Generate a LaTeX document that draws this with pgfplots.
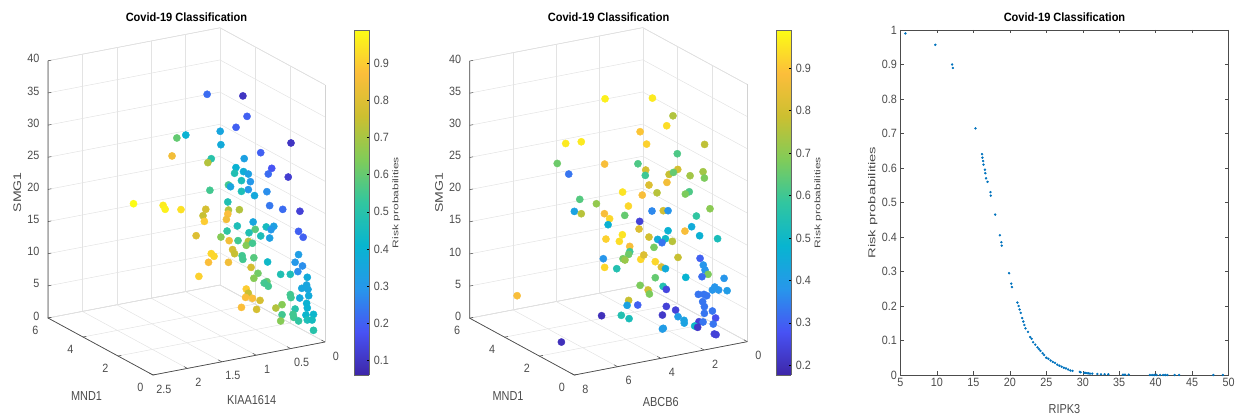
\documentclass[border=0pt]{standalone}
\usepackage{pgfplots}
\usepackage{pgfplotstable}
\usepackage{fontspec}
\setmainfont{Liberation Sans}
\pgfplotsset{compat=1.18}
\pgfplotsset{colormap={mparula}{
 rgb=(0.2422,0.1504,0.6603) rgb=(0.2810,0.3228,0.9579) rgb=(0.1540,0.5902,0.9218)
 rgb=(0.0297,0.7082,0.8163) rgb=(0.1938,0.7758,0.6251) rgb=(0.5044,0.7993,0.3480)
 rgb=(0.8000,0.7500,0.1900) rgb=(0.9900,0.7450,0.2300) rgb=(0.9900,0.9900,0.0800)}}
\newcommand{\tl}[1]{\scalebox{0.9}[1]{\fontsize{12}{14}\selectfont #1}}
\newcommand{\ttl}{\scalebox{0.92}[1]{\fontsize{12}{14}\selectfont\bfseries Covid-19 Classification}}
\newcommand{\lab}[1]{\scalebox{0.84}[1]{\fontsize{13}{15}\selectfont #1}}
\newcommand{\zlab}[1]{\scalebox{1.28}[1]{\fontsize{11}{13}\selectfont #1}}
\definecolor{tk}{gray}{0.3}
\pgfplotstableread{
x y z m
0.95 3 36.04 0.22
0.43 3 34.72 0.10
0.37 3 31.42 0.20
0.53 3 30.04 0.20
0.76 3 29.90 0.35
0.75 3 27.79 0.37
1.26 3 30.34 0.40
1.39 3 30.15 0.60
1.46 3 27.50 0.85
0.89 3 25.90 0.50
0.94 3 25.39 0.72
0.64 3 21.30 0.55
0.61 3 20.97 0.35
0.91 3 21.03 0.55
0.65 3 18.68 0.48
2.02 3 21.22 0.99
1.59 3 20.08 0.96
1.56 3 19.41 0.97
1.33 3 18.89 0.94
0.97 3 18.20 0.78
1.01 3 17.28 0.75
0.64 3 17.40 0.72
0.65 3 16.81 0.87
0.67 3 16.01 0.85
0.99 3 16.36 0.90
0.66 3 14.18 0.52
1.11 3 14.38 0.80
0.75 3 13.43 0.65
0.63 3 12.62 0.85
0.58 3 11.13 0.78
0.89 3 11.14 0.92
0.85 3 10.64 0.92
0.93 3 9.87 0.87
0.64 3 9.27 0.85
1.07 3 7.97 0.91
0.24 1 29.97 0.10
0.68 1 29.36 0.20
0.92 1 28.93 0.33
1.04 1 27.78 0.40
0.52 1 26.60 0.18
0.57 1 25.82 0.22
1.06 1 26.94 0.48
0.93 1 26.93 0.38
0.86 1 26.41 0.33
0.28 1 24.75 0.12
0.96 1 25.59 0.46
0.83 1 25.16 0.30
0.96 1 23.92 0.47
0.86 1 23.99 0.30
0.77 1 22.87 0.36
0.59 1 23.11 0.28
0.55 1 20.86 0.24
0.36 1 19.89 0.22
0.11 1 19.08 0.13
0.99 1 21.13 0.72
0.79 1 18.81 0.35
1.02 1 18.66 0.47
0.60 1 17.65 0.45
0.49 1 17.52 0.33
0.53 1 17.08 0.30
0.76 1 17.60 0.58
0.85 1 17.26 0.48
0.13 1 16.00 0.20
0.68 1 16.41 0.47
0.55 1 15.82 0.33
1.01 1 16.36 0.55
0.86 1 15.94 0.73
0.89 1 15.38 0.65
0.80 1 15.52 0.55
1.06 1 14.43 0.75
0.95 1 13.89 0.55
0.94 1 13.30 0.55
0.78 1 13.23 0.58
0.13 1 12.38 0.32
0.58 1 12.16 0.43
0.18 1 11.29 0.30
0.82 1 11.81 0.78
0.72 1 10.68 0.62
0.39 1 9.84 0.48
0.25 1 9.56 0.47
0.78 1 10.03 0.65
0.59 1 9.12 0.60
0.63 1 8.99 0.55
0.57 1 8.36 0.55
0.14 1 9.76 0.28
0.89 1 8.59 0.90
0.86 1 7.87 0.75
0.90 1 7.31 0.87
0.80 1 6.96 0.87
0.69 1 6.41 0.78
0.25 1 6.40 0.55
0.24 1 5.92 0.55
0.96 1 5.88 0.87
0.74 1 5.12 0.78
0.46 1 4.75 0.72
0.37 1 5.09 0.65
0.18 1 4.02 0.50
0.37 1 3.53 0.55
0.21 1 3.26 0.55
0.20 1 2.76 0.55
0.39 1 2.59 0.65
0.13 1 2.06 0.52
0.19 0.5 15.94 0.20
0.20 0.5 11.50 0.28
0.13 0.5 9.59 0.37
0.14 0.5 8.41 0.35
0.21 0.5 8.04 0.35
0.12 0.5 7.69 0.35
0.24 0.5 6.59 0.36
0.11 0.5 6.68 0.37
0.14 0.5 5.56 0.40
0.13 0.5 4.82 0.40
0.15 0.5 3.77 0.42
0.04 0.5 3.64 0.42
0.13 0.5 2.95 0.47
0.06 0.5 2.80 0.45
0.04 0.5 1.16 0.50
}\dataA
\pgfplotstableread{
x y z m
4.16 3 36.05 0.97
1.97 3 34.74 0.96
1.02 3 31.37 0.75
1.31 3 30.01 0.94
2.54 3 29.88 0.90
2.24 3 27.76 0.92
5.98 3 30.28 0.96
5.26 3 30.08 0.96
6.37 3 27.43 0.66
0.82 3 25.34 0.62
2.64 3 24.96 0.62
4.18 3 25.91 0.88
5.84 3 25.43 0.33
2.28 3 23.75 0.80
0.80 3 22.89 0.80
1.20 3 22.37 0.78
1.00 3 22.55 0.65
0.23 3 21.54 0.73
2.30 3 22.93 0.60
1.30 3 21.19 0.87
2.13 3 21.32 0.82
3.35 3 21.02 0.95
2.44 3 19.96 0.88
5.33 3 21.17 0.63
4.56 3 19.99 0.71
3.08 3 18.67 0.93
5.58 3 19.46 0.42
5.26 3 18.89 0.76
4.19 3 18.20 0.88
3.25 3 17.33 0.65
1.99 3 17.19 0.36
3.95 3 17.26 0.93
2.56 3 15.95 0.24
4.02 3 16.38 0.47
2.59 3 14.78 0.82
3.36 3 14.39 0.95
4.12 3 14.21 0.92
3.50 3 13.45 0.94
2.13 3 13.23 0.80
3.02 3 12.36 0.88
3.02 3 11.53 0.60
3.07 3 11.15 0.66
4.24 3 11.23 0.38
3.33 3 10.64 0.67
3.24 3 10.38 0.72
2.51 3 10.01 0.93
2.37 3 10.60 0.82
4.18 3 9.84 0.93
3.62 3 9.28 0.55
2.54 3 5.99 0.68
2.17 3 5.03 0.80
2.11 3 4.36 0.68
3.07 3 3.99 0.78
3.14 3 3.27 0.42
2.65 3 3.00 0.30
4.32 3 2.42 0.20
3.41 3 1.89 0.55
3.05 3 1.14 0.53
1.17 1 29.96 0.77
1.24 1 25.76 0.73
1.18 1 24.74 0.68
3.37 1 23.87 0.76
1.88 1 23.06 0.62
2.06 1 22.82 0.68
0.92 1 19.80 0.70
3.08 1 20.89 0.80
2.86 1 20.75 0.38
1.55 1 19.07 0.58
1.77 1 17.55 0.45
2.86 1 17.64 0.47
2.08 1 17.07 0.88
1.40 1 15.91 0.47
0.57 1 14.91 0.53
3.34 1 16.60 0.45
2.98 1 16.47 0.50
3.14 1 15.95 0.33
2.66 1 15.85 0.76
3.51 1 15.47 0.67
2.40 1 13.19 0.78
3.45 1 13.20 0.93
1.38 1 12.38 0.30
1.23 1 11.24 0.38
3.17 1 12.19 0.82
2.98 1 11.81 0.45
1.15 1 10.41 0.38
1.01 1 9.65 0.68
1.29 1 9.47 0.32
0.27 1 8.55 0.38
3.45 1 10.71 0.65
2.04 1 9.85 0.48
3.09 1 9.13 0.55
2.94 1 8.56 0.25
0.70 1 7.48 0.38
0.81 1 7.09 0.38
0.52 1 6.90 0.38
0.13 1 6.54 0.40
1.46 1 6.83 0.33
1.20 1 6.66 0.33
1.07 1 6.37 0.33
1.26 1 5.56 0.33
2.94 1 5.92 0.24
1.18 1 4.74 0.33
0.81 1 3.82 0.33
2.51 1 5.07 0.24
1.18 1 3.70 0.33
3.12 1 4.69 0.22
2.40 1 3.97 0.40
0.66 1 2.63 0.27
2.12 1 3.22 0.42
2.11 1 2.79 0.42
1.43 1 2.56 0.24
1.24 1 2.39 0.33
0.77 1 1.77 0.33
1.63 1 2.02 0.50
1.49 1 1.72 0.22
3.12 1 2.52 0.40
3.08 1 2.60 0.40
0.72 1 0.19 0.24
0.64 1 0.03 0.24
7.79 1 3.52 0.20
7.42 4 6.07 0.88
}\dataB
\pgfplotstableread{
x y
5.7 0.99
9.8 0.957
12.1 0.90
12.2 0.89
15.3 0.715
16.2 0.64
16.25 0.63
16.35 0.62
16.4 0.61
16.6 0.595
16.65 0.585
16.75 0.57
16.95 0.56
17.35 0.53
17.4 0.52
18.0 0.465
18.65 0.405
18.85 0.385
18.9 0.375
19.9 0.295
20.2 0.265
20.3 0.255
21.05 0.21
21.2 0.20
21.35 0.19
21.5 0.18
21.7 0.165
21.85 0.155
22.0 0.145
22.15 0.135
22.5 0.125
22.8 0.11
23.0 0.105
23.2 0.095
23.5 0.088
23.8 0.08
24.0 0.075
24.2 0.07
24.5 0.063
24.7 0.058
25.0 0.05
25.3 0.047
25.6 0.042
25.9 0.038
26.2 0.035
26.5 0.03
26.8 0.027
27.1 0.024
27.4 0.021
27.7 0.019
28.0 0.016
28.3 0.013
28.6 0.012
29.6 0.009
29.7 0.008
30.2 0.006
30.4 0.006
30.6 0.005
30.8 0.005
31.0 0.004
31.3 0.004
32.0 0.003
32.5 0.002
33.0 0.002
33.5 0.002
35.5 0.001
35.8 0.001
36.3 0.001
39.2 0
39.5 0
39.8 0
40.1 0
40.6 0
41.0 0
41.3 0
41.6 0
42.6 0
43.2 0
47.9 0
49.2 0
}\dataC
\pgfplotsset{
 threed/.style={
  anchor=origin, clip=false, colormap name=mparula, x dir=reverse,
  grid=major, major grid style={gray!22,line width=0.5pt},
  axis line style={gray!35,line width=0.5pt},
  tick style={draw=none}, major tick length=3.5pt,
  tick pos=left,
  tick label style={text=tk},
  xticklabel style={anchor=center,xshift=11pt,yshift=-14pt},
  yticklabel style={anchor=center,xshift=-12.5pt,yshift=-12pt},
  zticklabel style={anchor=east,xshift=-5pt,yshift=2pt},
  ztick={0,5,...,40}, zticklabels={\tl{0},\tl{5},\tl{10},\tl{15},\tl{20},\tl{25},\tl{30},\tl{35},\tl{40}},
  ytick={0,2,4,6}, yticklabels={\tl{0},\tl{2},\tl{4},\tl{6}},
  ymin=0,ymax=6,zmin=0,zmax=40,
  scatter/use mapped color={draw=mapped color,fill=mapped color},
  xlabel style={anchor=center,text=tk},ylabel style={anchor=center,text=tk},zlabel style={anchor=center,text=tk},
 },
 cbar/.style={
  anchor=south west, scale only axis, width=15pt, height=345pt,
  colormap name=mparula, view={0}{90}, enlargelimits=false,
  xmin=0,xmax=1, xtick=\empty,
  ytick pos=right, tick align=inside, major tick length=2pt,
  axis line style={draw=gray!80!black,line width=0.7pt},
  tick style={draw=black,line width=0.5pt},
  yticklabel pos=right, tick label style={text=tk},
  yticklabel style={anchor=west,xshift=1pt},
  ylabel style={at={(1,0.5)},anchor=center,text=tk},
 },
}
\begin{document}
\begin{tikzpicture}
\path[use as bounding box] (0pt,0pt) rectangle (1238pt,417pt);
% --- left 3D
\begin{axis}[threed, at={(325pt,75pt)},
 x={(68.8pt,13.2pt)}, y={(-17.5pt,9.5pt)}, z={(0pt,6.43pt)},
 xmin=0,xmax=2.5, xtick={0,0.5,1,1.5,2,2.5}, xticklabels={\tl{0},\tl{0.5},\tl{1},\tl{1.5},\tl{2},\tl{2.5}},
 title={\ttl}, title style={at={(axis cs:1.25,3,40)},anchor=center,yshift=49.3pt},
 xlabel={\lab{KIAA1614}}, xlabel style={at={(axis cs:1.1,0,0)},xshift=2.3pt,yshift=-44pt},
 ylabel={\lab{MND1}}, ylabel style={at={(axis cs:2.5,3,0)},xshift=-14pt,yshift=-49.5pt},
 zlabel={\zlab{SMG1}}, zlabel style={at={(axis cs:2.5,6,20)},yshift=30.7pt,xshift=-3pt},
]
\addplot3[scatter, only marks, mark=*, mark size=3.6pt, scatter src=explicit, point meta min=0.06, point meta max=0.99] table[x=x,y=y,z=z,meta=m] {\dataA};
\draw[tk,line width=0.7pt] (axis cs:2.5,6,40)--(axis cs:2.5,6,0)--(axis cs:2.5,0,0)--(axis cs:0,0,0);
\pgfplotsinvokeforeach{0,0.5,1,1.5,2,2.5}{\draw[tk,line width=0.5pt] (axis cs:#1,0,0)--(axis cs:#1,0.2,0);}
\pgfplotsinvokeforeach{0,2,4,6}{\draw[tk,line width=0.5pt] (axis cs:2.5,#1,0)--(axis cs:2.45,#1,0);}
\pgfplotsinvokeforeach{0,5,10,15,20,25,30,35,40}{\draw[tk,line width=0.5pt] (axis cs:2.5,6,#1)--(axis cs:2.45,6,#1);}
\end{axis}
\begin{axis}[cbar, at={(354.3pt,42pt)}, ymin=0.06,ymax=0.99,
 ytick={0.1,0.2,...,0.9}, yticklabels={\tl{0.1},\tl{0.2},\tl{0.3},\tl{0.4},\tl{0.5},\tl{0.6},\tl{0.7},\tl{0.8},\tl{0.9}},
 ylabel={\scalebox{1.47}[1]{\fontsize{8.2}{10}\selectfont Risk probabilities}}, ylabel style={yshift=-27pt}]
\addplot3[surf, shader=interp, point meta=y, mesh/rows=2] coordinates {(0,0.06,0) (1,0.06,0) (0,0.99,0) (1,0.99,0)};
\end{axis}
% --- middle 3D
\begin{axis}[threed, at={(747.33pt,75.33pt)},
 x={(21.63pt,4.17pt)}, y={(-17.43pt,9.47pt)}, z={(0pt,6.43pt)},
 xmin=0,xmax=8, xtick={0,2,4,6,8}, xticklabels={\tl{0},\tl{2},\tl{4},\tl{6},\tl{8}},
 title={\ttl}, title style={at={(axis cs:4,3,40)},anchor=center,yshift=49.3pt},
 xlabel={\lab{ABCB6}}, xlabel style={at={(axis cs:4,0,0)},xshift=0pt,yshift=-44pt},
 ylabel={\lab{MND1}}, ylabel style={at={(axis cs:8,3,0)},xshift=-14pt,yshift=-49.5pt},
 zlabel={\zlab{SMG1}}, zlabel style={at={(axis cs:8,6,20)},yshift=30.7pt,xshift=-3pt},
]
\addplot3[scatter, only marks, mark=*, mark size=3.6pt, scatter src=explicit, point meta min=0.177, point meta max=0.99] table[x=x,y=y,z=z,meta=m] {\dataB};
\draw[tk,line width=0.7pt] (axis cs:8,6,40)--(axis cs:8,6,0)--(axis cs:8,0,0)--(axis cs:0,0,0);
\pgfplotsinvokeforeach{0,2,4,6,8}{\draw[tk,line width=0.5pt] (axis cs:#1,0,0)--(axis cs:#1,0.2,0);}
\pgfplotsinvokeforeach{0,2,4,6}{\draw[tk,line width=0.5pt] (axis cs:8,#1,0)--(axis cs:7.84,#1,0);}
\pgfplotsinvokeforeach{0,5,10,15,20,25,30,35,40}{\draw[tk,line width=0.5pt] (axis cs:8,6,#1)--(axis cs:7.84,6,#1);}
\end{axis}
\begin{axis}[cbar, at={(776.3pt,42pt)}, ymin=0.177,ymax=0.99,
 ytick={0.2,0.3,...,0.9}, yticklabels={\tl{0.2},\tl{0.3},\tl{0.4},\tl{0.5},\tl{0.6},\tl{0.7},\tl{0.8},\tl{0.9}},
 ylabel={\scalebox{1.47}[1]{\fontsize{8.2}{10}\selectfont Risk probabilities}}, ylabel style={yshift=-27pt}]
\addplot3[surf, shader=interp, point meta=y, mesh/rows=2] coordinates {(0,0.177,0) (1,0.177,0) (0,0.99,0) (1,0.99,0)};
\end{axis}
% --- right 2D
\begin{axis}[anchor=south west, at={(900.3pt,42pt)}, scale only axis, width=328.4pt, height=345pt,
 xmin=5,xmax=50,ymin=0,ymax=1, axis line style={draw=tk,line width=0.7pt},
 tick align=inside, major tick length=3.5pt, tick style={draw=tk,line width=0.5pt},
 tick label style={text=tk},
 xtick={5,10,...,50}, xticklabels={\tl{5},\tl{10},\tl{15},\tl{20},\tl{25},\tl{30},\tl{35},\tl{40},\tl{45},\tl{50}},
 ytick={0,0.1,...,1}, yticklabels={\tl{0},\tl{0.1},\tl{0.2},\tl{0.3},\tl{0.4},\tl{0.5},\tl{0.6},\tl{0.7},\tl{0.8},\tl{0.9},\tl{1}},
 title={\ttl}, title style={at={(0.5,1)},anchor=center,yshift=7pt},
 xlabel={\lab{RIPK3}}, xlabel style={at={(0.5,0)},anchor=center,yshift=-34pt,text=tk},
 ylabel={\scalebox{1.48}[1]{\fontsize{10}{12}\selectfont Risk probabilities}}, ylabel style={at={(0,0.5)},anchor=center,yshift=27.5pt,text=tk},
]
\addplot[only marks, mark=*, mark size=1pt, color={rgb,255:red,0;green,114;blue,189}, mark options={draw=none}] table[x=x,y=y] {\dataC};
\end{axis}
\end{tikzpicture}
\end{document}
